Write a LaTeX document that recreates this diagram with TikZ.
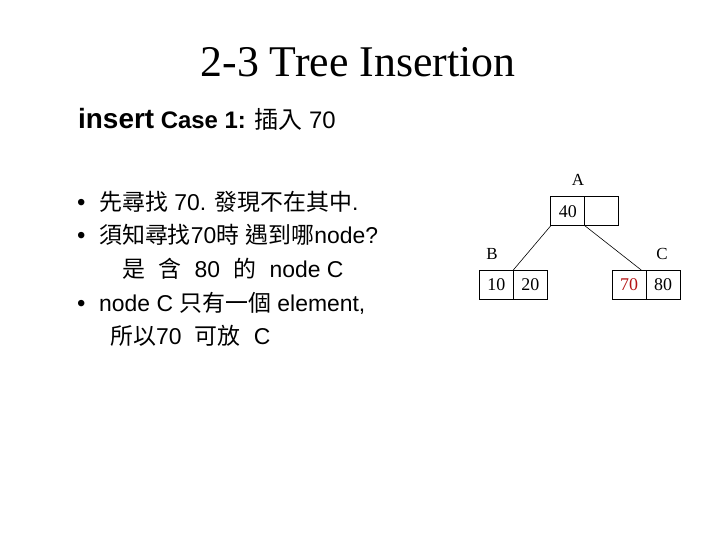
\documentclass[tikz,border=0pt]{standalone}
\usepackage{fontspec}
\setmainfont{Liberation Serif}
\newfontfamily\arial{Liberation Sans}
\newfontfamily\cjk{Noto Sans CJK TC}
\newcommand{\zh}[1]{{\cjk #1}}
\newcommand{\zsp}{\hspace{0.58em}}
\usetikzlibrary{positioning}
\definecolor{keyred}{RGB}{180,20,20}
\tikzset{
  slidetitle/.style={font=\fontsize{44}{50}\selectfont, anchor=base, inner sep=0pt},
  casehead/.style={font=\arial\fontsize{24}{28}\selectfont, anchor=base west, inner sep=0pt},
  bulletmark/.style={font=\arial\fontsize{24}{26}\selectfont, anchor=base west, inner sep=0pt},
  bulletline/.style={font=\arial\fontsize{23}{26}\selectfont, anchor=base west, inner sep=0pt},
  keycell/.style={draw=black, line width=0.8pt, minimum width=34bp, minimum height=29bp,
    inner sep=0pt, outer sep=0pt, font=\fontsize{18}{20}\selectfont},
  nodename/.style={font=\fontsize{17}{19}\selectfont, inner sep=0pt},
  link/.style={draw=black, line width=0.6pt},
}

\begin{document}
\begin{tikzpicture}[x=1bp, y=-1bp]
\useasboundingbox (0,0) rectangle (720,540);
% title and case line
\node[slidetitle] (title) at (358,77) {2-3 Tree Insertion};
\node[casehead] (case) at (78,129) {{\bfseries\fontsize{28}{32}\selectfont insert} \textbf{Case 1:} \zh{插入} 70};
% bullet list
\node[bulletmark] (m1) at (77,211) {•};
\node[bulletline] (t1) at (99,211) {\zh{先尋找} 70. \zh{發現不在其中}.};
\node[bulletmark] (m2) at (77,244) {•};
\node[bulletline] (t2) at (99,244) {\zh{須知尋找}70\zh{時} \zh{遇到哪}node?};
\node[bulletline] (t3) at (122,278) {\zh{是}\zsp\zh{含}\zsp 80\zsp\zh{的}\zsp node C};
\node[bulletmark] (m4) at (77,311) {•};
\node[bulletline] (t4) at (99,311) {node C \zh{只有一個} element,};
\node[bulletline] (t5) at (110,344) {\zh{所以}70\zsp\zh{可放}\zsp C};
% tree
\node[keycell] (a1) at (567.8,211.2) {40};
\node[keycell, right=0pt of a1] (a2) {};
\node[keycell] (b1) at (496.3,284.5) {10};
\node[keycell, right=0pt of b1] (b2) {20};
\node[keycell, text=keyred] (c1) at (629.2,284.5) {70};
\node[keycell, right=0pt of c1] (c2) {80};
\node[nodename] (la) at (578,180) {A};
\node[nodename] (lb) at (492,254) {B};
\node[nodename] (lc) at (662,254) {C};
\draw[link] (a1.south west) -- (b1.north east);
\draw[link] (a1.south east) -- ([xshift=-5bp]c1.north east);
\end{tikzpicture}
\end{document}
